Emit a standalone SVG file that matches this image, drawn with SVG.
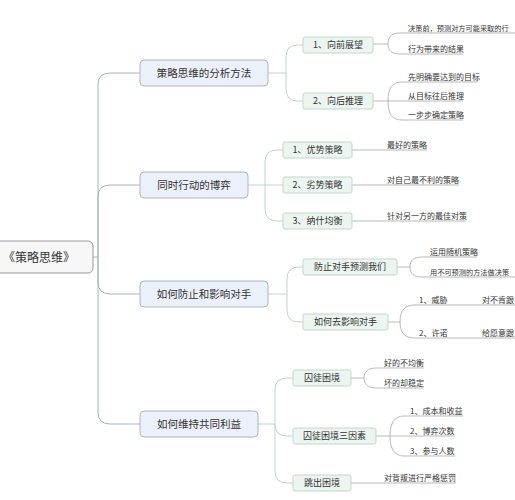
<svg xmlns="http://www.w3.org/2000/svg" width="515" height="500" viewBox="0 0 515 500">
<style>
text{font-family:"Noto Sans CJK SC","Noto Sans",sans-serif;fill:#333}
.root rect{fill:#f7f7f7;stroke:#9a9a9a;stroke-width:1}
.root text{font-size:12px}
.l1 rect{fill:#ebf0fa;stroke:#a9b6c6;stroke-width:1}
.l1 text{font-size:10.5px}
.l2 rect{fill:#ecf5ef;stroke:#c3d8cb;stroke-width:1}
.l2 text{font-size:9px}
.leaf text{font-size:8px}
.leaf text.sm{font-size:7.2px}
.c1{fill:none;stroke:#a9b3bd;stroke-width:1}
.c2{fill:none;stroke:#c2d3c8;stroke-width:1}
.c3{fill:none;stroke:#b9b9b9;stroke-width:1}
</style>
<rect width="515" height="500" fill="#ffffff"/>
<g id="connectors">
<path class="c1" d="M93,257 H98"/>
<path class="c1" d="M98,257 V85 Q98,73 110,73 H140"/>
<path class="c1" d="M98,257 V197 Q98,185 110,185 H140"/>
<path class="c1" d="M98,257 V282 Q98,294 110,294 H140"/>
<path class="c1" d="M98,257 V412 Q98,424 110,424 H140"/>
<path class="c2" d="M268,73 H286 V57 Q286,45 298,45 H303"/>
<path class="c2" d="M286,73 V89 Q286,101 298,101 H303"/>
<path class="c2" d="M248,185 H265 V162 Q265,150 277,150 H283"/>
<path class="c2" d="M265,185 H283"/>
<path class="c2" d="M265,185 V209 Q265,221 277,221 H283"/>
<path class="c2" d="M268,294 H287 V279 Q287,267 299,267 H303"/>
<path class="c2" d="M287,294 V310 Q287,322 299,322 H303"/>
<path class="c2" d="M258,424 H275 V390 Q275,378 287,378 H293"/>
<path class="c2" d="M275,424 V424 Q275,436 287,436 H293"/>
<path class="c2" d="M275,424 V471 Q275,483 287,483 H293"/>
<path class="c3" d="M373,44 H388 C388,36 392,33 400,33 H515"/>
<path class="c3" d="M388,44 C388,51 392,54 400,54 H463"/>
<path class="c3" d="M373,101 H388 C388,88 392,82 402,82 H478"/>
<path class="c3" d="M388,101 H463"/>
<path class="c3" d="M388,101 C388,114 392,120 402,120 H463"/>
<path class="c3" d="M352,150 H427"/>
<path class="c3" d="M352,185 H459"/>
<path class="c3" d="M352,221 H466"/>
<path class="c3" d="M397,267 H410 C410,260 414,257 422,257 H477"/>
<path class="c3" d="M410,267 C410,274 414,277 422,277 H515"/>
<path class="c3" d="M388,322 H400 C400,310 405,305 415,305 H515"/>
<path class="c3" d="M400,322 C400,333 405,338 415,338 H515"/>
<path class="c3" d="M351,378 H364 C364,372 368,368 376,368 H424"/>
<path class="c3" d="M364,378 C364,384 368,388 376,388 H424"/>
<path class="c3" d="M376,436 H390 C390,424 394,416 404,416 H463"/>
<path class="c3" d="M390,436 H455"/>
<path class="c3" d="M390,436 C390,448 394,456 404,456 H455"/>
<path class="c3" d="M351,483 H456"/>
</g>
<g id="root" class="root"><rect x="-8" y="241" width="101" height="32" rx="5"/><text x="39" y="261.5" text-anchor="middle">《策略思维》</text></g>
<g id="n1" class="l1"><rect x="140" y="60" width="128" height="26" rx="4"/><text x="204" y="76.8" text-anchor="middle">策略思维的分析方法</text></g>
<g id="n2" class="l1"><rect x="140" y="172" width="108" height="26" rx="4"/><text x="194" y="188.8" text-anchor="middle">同时行动的博弈</text></g>
<g id="n3" class="l1"><rect x="140" y="281" width="128" height="26" rx="4"/><text x="204" y="297.8" text-anchor="middle">如何防止和影响对手</text></g>
<g id="n4" class="l1"><rect x="140" y="411" width="118" height="26" rx="4"/><text x="199" y="427.8" text-anchor="middle">如何维持共同利益</text></g>
<g id="n1a" class="l2"><rect x="303" y="37" width="70" height="16" rx="2"/><text x="338" y="48.2" text-anchor="middle">1、向前展望</text></g>
<g id="n1b" class="l2"><rect x="303" y="93" width="70" height="16" rx="2"/><text x="338" y="104.2" text-anchor="middle">2、向后推理</text></g>
<g id="n2a" class="l2"><rect x="283" y="142" width="69" height="16" rx="2"/><text x="317.5" y="153.2" text-anchor="middle">1、优势策略</text></g>
<g id="n2b" class="l2"><rect x="283" y="177" width="69" height="16" rx="2"/><text x="317.5" y="188.2" text-anchor="middle">2、劣势策略</text></g>
<g id="n2c" class="l2"><rect x="283" y="213" width="69" height="16" rx="2"/><text x="317.5" y="224.2" text-anchor="middle">3、纳什均衡</text></g>
<g id="n3a" class="l2"><rect x="303" y="259" width="94" height="16" rx="2"/><text x="350" y="270.2" text-anchor="middle">防止对手预测我们</text></g>
<g id="n3b" class="l2"><rect x="303" y="314" width="85" height="16" rx="2"/><text x="345.5" y="325.2" text-anchor="middle">如何去影响对手</text></g>
<g id="n4a" class="l2"><rect x="293" y="370" width="58" height="16" rx="2"/><text x="322" y="381.2" text-anchor="middle">囚徒困境</text></g>
<g id="n4b" class="l2"><rect x="293" y="428" width="83" height="16" rx="2"/><text x="334.5" y="439.2" text-anchor="middle">囚徒困境三因素</text></g>
<g id="n4c" class="l2"><rect x="293" y="475" width="58" height="16" rx="2"/><text x="322" y="486.2" text-anchor="middle">跳出困境</text></g>
<g id="leaves" class="leaf">
<text class="sm" x="408" y="30.5">决策前，预测对方可能采取的行</text>
<text x="408" y="51.5">行为带来的结果</text>
<text x="408" y="79.5">先明确要达到的目标</text>
<text x="408" y="98.5">从目标往后推理</text>
<text x="408" y="117.5">一步步确定策略</text>
<text x="387" y="147.5">最好的策略</text>
<text x="387" y="182.5">对自己最不利的策略</text>
<text x="387" y="218.5">针对另一方的最佳对策</text>
<text x="430" y="254.5">运用随机策略</text>
<text class="sm" x="430" y="274.5">用不可预测的方法做决策</text>
<text x="419" y="302.5">1、威胁</text>
<text x="482" y="302.5">对不肯跟</text>
<text x="419" y="335.5">2、许诺</text>
<text x="482" y="335.5">给愿意跟</text>
<text x="384" y="365.5">好的不均衡</text>
<text x="384" y="385.5">坏的却稳定</text>
<text x="410" y="413.5">1、成本和收益</text>
<text x="410" y="433.5">2、博弈次数</text>
<text x="410" y="453.5">3、参与人数</text>
<text x="384" y="480.5">对背叛进行严格惩罚</text>
</g>
</svg>
